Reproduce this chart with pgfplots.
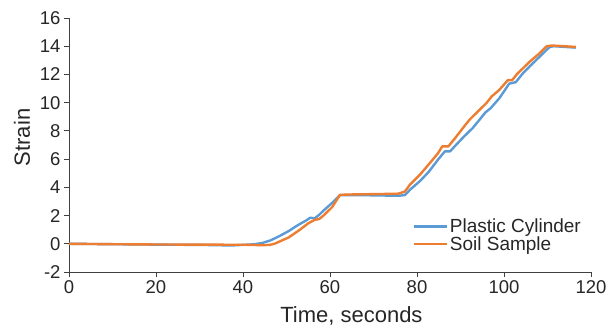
\documentclass[border=0pt]{standalone}
\usepackage{pgfplots}
\pgfplotsset{compat=1.18}
\usepackage{fontspec}
\setmainfont{Liberation Sans}
\definecolor{xlblue}{HTML}{5B9BD5}
\definecolor{xlorange}{HTML}{ED7D31}
\begin{document}
\begin{tikzpicture}
\path[use as bounding box] (-69bp,-56bp) rectangle (540bp,272bp);
\begin{axis}[
  at={(0,0)}, anchor=south west,
  scale only axis, width=522bp, height=254bp,
  xmin=0, xmax=120, ymin=-2, ymax=16,
  xtick={0,20,...,120}, ytick={-2,0,...,16},
  axis x line*=bottom, axis y line*=left,
  axis line style={black!75, line width=0.8bp, -},
  tick style={black!75, line width=0.8bp},
  tick align=outside, major tick length=5bp,
  /pgf/number format/assume math mode=true,
  ticklabel style={font=\fontsize{18.5bp}{20bp}\selectfont, text=black!85},
  xlabel={Time, seconds}, ylabel={Strain},
  label style={font=\fontsize{22bp}{24bp}\selectfont, text=black!85},
  xlabel style={at={(axis description cs:0.541,-0.197)}, anchor=base},
  ylabel style={at={(axis description cs:-0.075,0.53)}, anchor=base},
  legend style={draw=none, fill=none, at={(0.652,0.225)}, anchor=north west,
    font=\fontsize{19bp}{19bp}\selectfont, text=black!85, row sep=-2bp},
  legend cell align=left,
  legend image code/.code={\draw[#1] (0bp,0bp) -- (33bp,0bp);},
]
\addplot[xlblue, line width=2.4bp, line join=round] coordinates {
(0,0.0) (10.1,-0.03) (20.2,-0.06) (30.3,-0.08) (37.3,-0.12) (40.4,-0.07) (42.4,-0.04)
(44.4,0.05) (46.4,0.25) (48.4,0.55) (50.5,0.9) (52.5,1.3) (54.5,1.65) (55.5,1.85) (56.5,1.8)
(57.5,2.05) (58.5,2.35) (60.5,2.9) (62.3,3.45) (65.6,3.45) (70.6,3.43) (75.7,3.4)
(77.2,3.45) (78.4,3.83) (80.7,4.45) (82.7,5.1) (84.8,5.95) (86.4,6.55) (87.6,6.55)
(88.8,6.95) (90.8,7.6) (92.8,8.2) (94.4,8.8) (95.7,9.3) (96.9,9.6) (98.9,10.3)
(101.2,11.35) (102.7,11.45) (104.4,12.1) (107.0,12.9) (109.0,13.5) (110.5,13.95)
(111.5,14.0) (116.5,13.9)
};
\addlegendentry{Plastic Cylinder}
\addplot[xlorange, line width=2.4bp, line join=round] coordinates {
(0,0.0) (10.1,-0.03) (20.2,-0.05) (30.3,-0.06) (40.4,-0.07) (44.4,-0.1) (46.2,-0.08)
(47.4,0.02) (48.4,0.16) (50.5,0.45) (53.1,1.0) (55.0,1.45) (56.5,1.7) (57.5,1.75)
(58.5,2.0) (60.5,2.6) (62.3,3.47) (65.6,3.5) (70.6,3.52) (75.7,3.55) (77.2,3.7)
(78.4,4.2) (80.7,4.9) (82.9,5.7) (84.8,6.4) (85.8,6.9) (87.2,6.9) (88.8,7.5)
(90.8,8.3) (92.1,8.8) (94.4,9.5) (95.9,9.95) (97.2,10.45) (98.9,10.9) (100.9,11.6)
(101.9,11.6) (102.9,12.0) (104.4,12.45) (105.9,12.9) (108.0,13.45) (109.8,14.0)
(111.0,14.05) (116.5,13.95)
};
\addlegendentry{Soil Sample}
\end{axis}
\end{tikzpicture}
\end{document}
